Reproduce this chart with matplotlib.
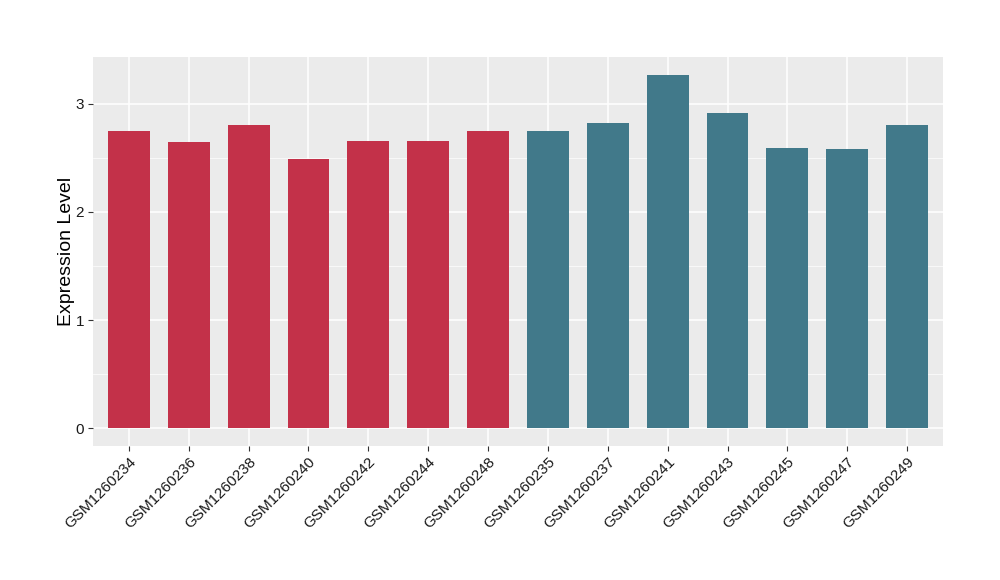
import numpy as np
import matplotlib.pyplot as plt

# sample ids and expression values
group1 = ['GSM1260234', 'GSM1260236', 'GSM1260238', 'GSM1260240',
          'GSM1260242', 'GSM1260244', 'GSM1260248']
values1 = [2.75, 2.65, 2.80, 2.49, 2.66, 2.66, 2.75]
group2 = ['GSM1260235', 'GSM1260237', 'GSM1260241', 'GSM1260243',
          'GSM1260245', 'GSM1260247', 'GSM1260249']
values2 = [2.75, 2.82, 3.27, 2.91, 2.59, 2.58, 2.80]

plt.rcParams['font.family'] = ['Liberation Sans', 'DejaVu Sans']

labels = group1 + group2
values = values1 + values2
colors = ['#C33149'] * len(group1) + ['#41798A'] * len(group2)
x = np.arange(1, len(labels) + 1)

fig = plt.figure(figsize=(10, 5.8), dpi=100)
ax = fig.add_axes([0.093, 0.231, 0.850, 0.671])
ax.set_facecolor('#EBEBEB')

ax.bar(x, values, width=0.7, color=colors, zorder=3)

ymax = max(values)
pad = ymax * 0.05
ax.set_ylim(-pad, ymax + pad)
ax.set_xlim(0.4, len(labels) + 0.6)

ax.set_yticks([0, 1, 2, 3])
ax.set_yticks([0.5, 1.5, 2.5], minor=True)
ax.set_xticks(x)
ax.set_xticklabels(labels, rotation=45, ha='right', rotation_mode='anchor')

ax.grid(True, which='major', color='white', linewidth=1.1, zorder=0)
ax.grid(True, which='minor', axis='y', color='white', linewidth=0.5, zorder=0)
ax.set_axisbelow(True)
for s in ax.spines.values():
    s.set_visible(False)

ax.tick_params(axis='both', which='major', length=3.5, width=0.8, color='#333333',
               labelsize=11, labelcolor='#1a1a1a', pad=3)
ax.tick_params(axis='both', which='minor', length=0)
ax.set_ylabel('Expression Level', fontsize=14, labelpad=0)

plt.savefig('out.png', dpi=100)
